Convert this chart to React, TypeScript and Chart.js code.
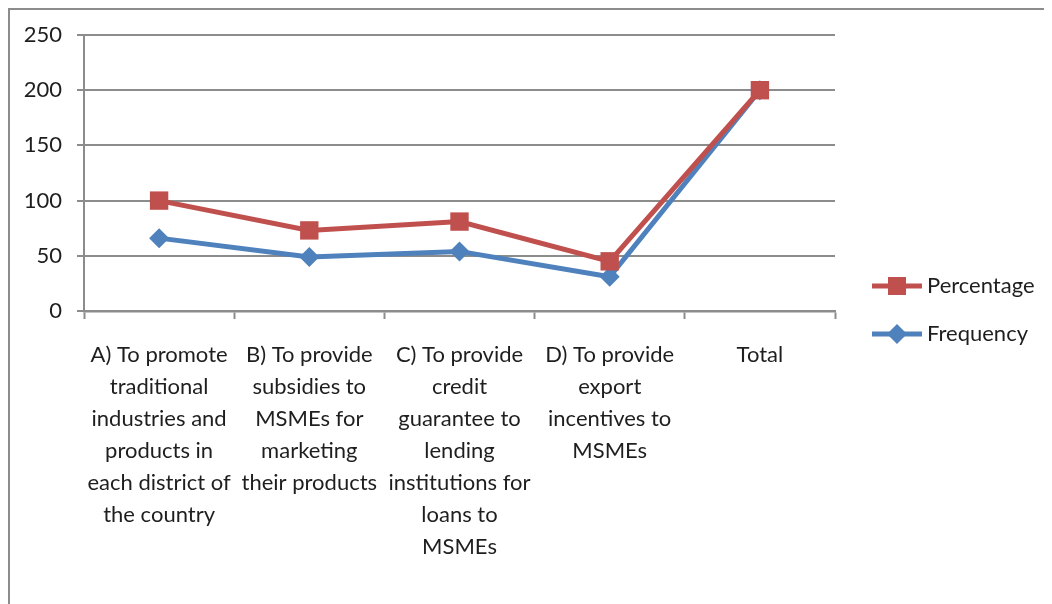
import React, { useEffect, useRef } from 'react';
import { Chart, registerables } from 'chart.js';

Chart.register(...registerables);

// ---- Data ----
const categories: string[][] = [
  ['A) To promote', 'traditional', 'industries and', 'products in', 'each district of', 'the country'],
  ['B) To provide', 'subsidies to', 'MSMEs for', 'marketing', 'their products'],
  ['C) To provide', 'credit', 'guarantee to', 'lending', 'institutions for', 'loans to', 'MSMEs'],
  ['D) To provide', 'export', 'incentives to', 'MSMEs'],
  ['Total'],
];
const seriesNames = ['Percentage', 'Frequency'];
const percentage = [100, 73, 81, 45, 200];
const frequency = [66, 49, 54, 31, 200];
const yMin = 0;
const yMax = 250;
const yStep = 50;

const RED = '#C0504D';
const BLUE = '#4F81BD';
const GRID = '#8c8c8c';
const TEXT = '#1e1e1e';
const FONT = 'Lato';

const CW = 1042;
const CH = 594;

const sideLegend = {
  id: 'sideLegend',
  afterDraw(chart: any) {
    const ctx = chart.ctx as CanvasRenderingContext2D;
    const area = chart.chartArea;
    const lineStart = area.right + 37;
    const lineLen = 50;
    const rows = [276, 324];
    const styles = ['rect', 'rectRot'];
    const colors = [RED, BLUE];
    ctx.save();
    for (let i = 0; i < seriesNames.length; i++) {
      const y = rows[i];
      ctx.strokeStyle = colors[i];
      ctx.lineWidth = 5;
      ctx.beginPath();
      ctx.moveTo(lineStart, y);
      ctx.lineTo(lineStart + lineLen, y);
      ctx.stroke();
      const cx = lineStart + lineLen / 2;
      ctx.fillStyle = colors[i];
      if (styles[i] === 'rect') {
        ctx.fillRect(cx - 9, y - 9, 18, 18);
      } else {
        ctx.beginPath();
        ctx.moveTo(cx, y - 10);
        ctx.lineTo(cx + 10, y);
        ctx.lineTo(cx, y + 10);
        ctx.lineTo(cx - 10, y);
        ctx.closePath();
        ctx.fill();
      }
      ctx.fillStyle = TEXT;
      ctx.font = `22px ${FONT}`;
      ctx.textBaseline = 'middle';
      ctx.textAlign = 'left';
      ctx.fillText(seriesNames[i], lineStart + lineLen + 5, y);
    }
    ctx.restore();
  },
};

export default function App() {
  const ref = useRef<HTMLCanvasElement | null>(null);

  useEffect(() => {
    document.documentElement.style.overflow = 'hidden';
    document.body.style.overflow = 'hidden';
    if (!ref.current) return;
    const chart = new Chart(ref.current, {
      type: 'line',
      data: {
        labels: categories,
        datasets: [
          {
            label: seriesNames[0],
            data: percentage,
            borderColor: RED,
            backgroundColor: RED,
            borderWidth: 5,
            pointStyle: 'rect',
            pointRadius: 13,
            pointBorderWidth: 0,
            pointBackgroundColor: RED,
            pointBorderColor: RED,
            tension: 0,
          },
          {
            label: seriesNames[1],
            data: frequency,
            borderColor: BLUE,
            backgroundColor: BLUE,
            borderWidth: 5,
            pointStyle: 'rectRot',
            pointRadius: 10,
            pointBorderWidth: 0,
            pointBackgroundColor: BLUE,
            pointBorderColor: BLUE,
            tension: 0,
          },
        ],
      },
      options: {
        responsive: false,
        animation: false,
        layout: { autoPadding: false, padding: { left: 0, top: 25, right: 217, bottom: 0 } },
        plugins: {
          legend: { display: false },
          tooltip: { enabled: false },
        },
        scales: {
          x: {
            type: 'category',
            offset: true,
            grid: {
              offset: true,
              drawOnChartArea: false,
              drawTicks: true,
              tickLength: 8,
              tickColor: GRID,
              tickWidth: 2,
            },
            border: { display: true, color: GRID, width: 2.5 },
            ticks: {
              autoSkip: false,
              maxRotation: 0,
              minRotation: 0,
              padding: 20,
              color: TEXT,
              font: { family: FONT, size: 22, lineHeight: '32px' },
            },
            afterFit: (scale: any) => {
              scale.height = CH - 301;
            },
          },
          y: {
            min: yMin,
            max: yMax,
            ticks: {
              stepSize: yStep,
              padding: 15,
              color: TEXT,
              font: { family: FONT, size: 22 },
            },
            grid: {
              color: GRID,
              lineWidth: 2,
              drawTicks: true,
              tickLength: 7,
              tickColor: GRID,
              tickWidth: 2,
            },
            border: { display: true, color: GRID, width: 2 },
            afterFit: (scale: any) => {
              scale.width = 74;
              scale.paddingTop = 0;
              scale.paddingBottom = 0;
            },
          },
        },
      },
      plugins: [sideLegend],
    });
    return () => chart.destroy();
  }, []);

  return (
    <div
      style={{
        width: 1044,
        height: 596,
        borderLeft: `2px solid ${GRID}`,
        borderTop: `2px solid ${GRID}`,
        boxSizing: 'border-box',
        background: '#fff',
      }}
    >
      <canvas ref={ref} width={CW} height={CH} style={{ display: 'block' }} />
    </div>
  );
}
